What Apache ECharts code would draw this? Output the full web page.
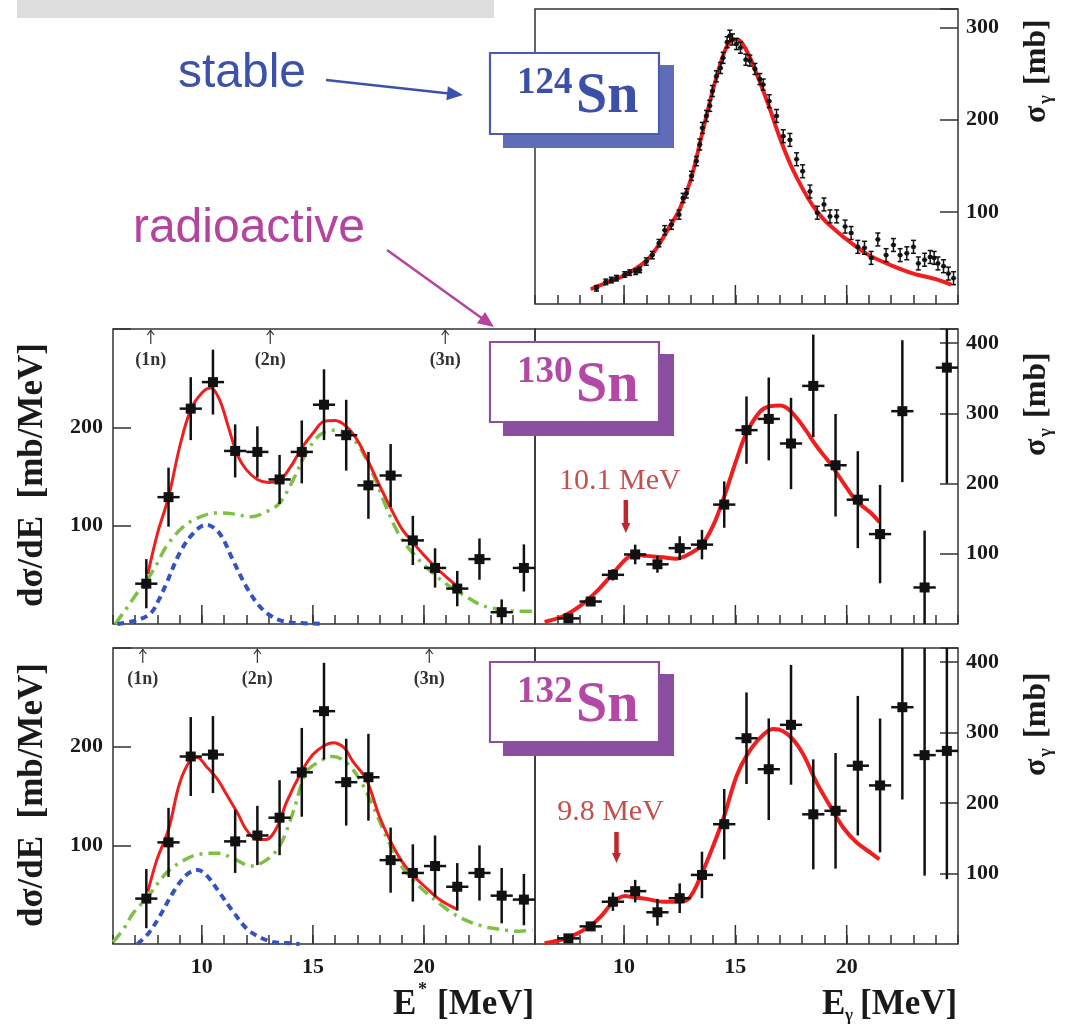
<!DOCTYPE html>
<html><head><meta charset="utf-8">
<script src="https://cdn.jsdelivr.net/npm/echarts@6/dist/echarts.min.js"></script>
<style>html,body{margin:0;padding:0;background:#fff}#c{width:1068px;height:1027px}</style>
</head><body><div id="c"></div><script>
// ---------- data ----------
const majorTicks = [10, 15, 20];
const thrLabels = ['(1n)', '(2n)', '(3n)'];
const thr130 = [7.7, 13.08, 20.96];
const thr132 = [7.34, 12.5, 20.24];

// 124Sn photoabsorption
const sn124_x = [8.76,9.18,9.43,9.66,10.03,10.25,10.52,10.7,11.0,11.27,11.57,11.83,12.13,12.47,12.65,12.8,13.03,13.25,13.4,13.52,13.7,13.85,13.97,14.15,14.33,14.45,14.63,14.75,14.87,15.05,15.23,15.47,15.65,15.88,16.1,16.25,16.52,16.85,17.15,17.45,17.75,18.02,18.35,18.68,18.98,19.25,19.55,19.93,20.2,20.5,20.8,21.1,21.4,21.77,22.1,22.4,22.7,23.0,23.22,23.5,23.75,23.93,24.1,24.35,24.57,24.8];
const sn124_y = [17,24,26,28,32,34,35,37,46,53,66,80,86,97,115,120,139,155,173,191,204,215,231,247,256,267,284,291,287,282,278,265,264,255,244,238,220,204,182,178,157,144,122,99,108,95,95,84,77,62,61,50,70,53,64,53,55,62,44,48,51,50,44,41,33,28];
const sn124_err = [3,3,3,3,3,3,3,3,4,4,4,5,5,5,5,5,5,5,6,6,6,6,6,6,6,6,6,6,6,6,6,6,6,6,6,6,7,7,7,7,7,7,7,7,7,7,7,7,7,7,7,7,7,7,7,7,7,7,7,7,7,7,7,7,7,7];
const sn124_fit = [[8.5,16],[9,21],[10,31],[11,47],[11.5,62],[12,82],[12.5,103],[13,135],[13.5,184],[14,233],[14.5,273],[14.8,285],[15.1,287],[15.5,275],[16,247],[16.5,215],[17,180],[17.5,150],[18,126],[18.5,106],[19,91],[19.5,80],[20,70],[21,53],[22,42],[23,33],[24,27],[24.7,21]];

// bins (both 130Sn and 132Sn)
const binX = [7.5,8.5,9.5,10.5,11.5,12.5,13.5,14.5,15.5,16.5,17.5,18.5,19.5,20.5,21.5,22.5,23.5,24.5];

// 130Sn excitation-energy spectrum
const sn130E_y = [41,129,219,246,176,175,147,175,223,192,141,151,85,57,36,66,12,57];
const sn130E_err = [25,30,32,33,27,26,25,32,36,36,34,32,25,20,18,21,13,24];
const sn130E_fit = [[7.57,51],[8.0,92],[8.5,129],[9.0,180],[9.5,218],[10.0,235],[10.4,240],[10.8,228],[11.2,200],[11.6,172],[12.0,157],[12.5,147],[13.0,144],[13.5,146],[14.0,160],[14.5,179],[15.0,194],[15.5,206],[16.0,207],[16.5,201],[17.0,187],[17.5,165],[18.0,141],[18.5,118],[19.0,97],[19.5,83],[20.0,70],[20.5,58],[21.0,48],[21.5,38]];
const sn130E_gdr = [[6.1,0],[6.55,14],[7.07,31],[7.57,46],[8.0,62],[8.4,79],[9.17,99],[9.93,109],[10.7,113],[11.4,112],[12.2,109],[12.9,114],[13.5,123],[14.1,146],[14.7,174],[15.3,192],[15.9,197],[16.5,194],[17.1,180],[17.7,153],[18.3,119],[18.9,90],[19.5,72],[20.1,58],[20.7,46],[21.3,36],[21.9,28],[22.5,20],[23.1,16],[23.7,14],[24.3,13],[24.9,13]];
const sn130E_pdr = [[6.2,0],[7.1,4],[7.7,11],[8.05,24],[8.4,41],[9.0,72],[9.6,92],[10.2,101],[10.8,92],[11.4,65],[12.0,38],[12.6,18],[13.2,7],[13.8,2],[14.4,1],[15.5,0]];

// 130Sn photoabsorption
const sn130G_y = [8,32,70,99,85,108,113,170,276,292,257,339,226,177,128,303,52,365];
const sn130G_err = [4,6,8,14,12,17,21,33,48,59,65,73,73,69,70,101,81,165];
const sn130G_fit = [[6.43,3],[7.26,11],[8.0,25],[8.76,46],[9.5,72],[10.1,93],[10.5,99],[11.0,97],[11.75,95],[12.35,93],[12.95,100],[13.48,112],[14.0,140],[14.45,177],[15.05,234],[15.5,272],[16.1,302],[16.55,310],[17.0,311],[17.45,304],[18.05,281],[18.65,253],[19.25,229],[19.85,201],[20.45,175],[21.05,159],[21.47,145]];

// 132Sn excitation-energy spectrum
const sn132E_y = [46,103,190,192,104,110,128,174,236,164,169,85,72,79,58,72,49,45];
const sn132E_err = [30,35,40,39,32,30,38,45,49,44,44,33,29,31,24,28,28,26];
const sn132E_fit = [[7.57,53],[7.97,85],[8.5,116],[9.0,163],[9.5,187],[9.8,189],[10.2,180],[10.7,167],[11.1,152],[11.6,133],[12.0,116],[12.5,106],[12.9,106],[13.4,119],[13.8,143],[14.5,175],[15.0,192],[15.5,201],[15.9,204],[16.4,199],[16.8,185],[17.4,167],[18.0,129],[18.5,104],[19.0,84],[19.5,70],[20.1,57],[20.7,45],[21.5,35]];
const sn132E_gdr = [[6.0,2],[6.5,16],[6.9,31],[7.57,48],[8.4,72],[9.2,85],[9.9,91],[10.7,92],[11.4,87],[12.2,79],[12.9,85],[13.5,99],[14.1,133],[14.7,174],[15.3,185],[15.9,190],[16.5,184],[17.1,167],[17.7,140],[18.3,109],[18.9,82],[19.5,65],[20.1,52],[20.7,41],[21.3,31],[21.9,24],[22.5,19],[23.1,16],[23.7,14],[24.3,13],[24.9,14]];
const sn132E_pdr = [[7.1,0],[7.6,11],[8.1,28],[8.7,52],[9.3,70],[9.8,75],[10.2,70],[10.8,52],[11.4,33],[12.0,16],[12.6,7],[13.2,2],[13.8,1],[14.4,0]];

// 132Sn photoabsorption
const sn132G_y = [8,25,60,75,45,65,98,170,292,248,311,184,189,253,225,336,268,274];
const sn132G_err = [4,6,13,16,19,21,33,50,65,72,85,78,82,99,95,131,171,182];
const sn132G_fit = [[6.43,1],[7.48,9],[8.46,25],[8.98,40],[9.5,59],[10.03,68],[10.48,66],[11.0,64],[11.75,60],[12.5,60],[12.95,66],[13.48,99],[14.0,139],[14.45,177],[15.05,238],[15.5,267],[16.1,292],[16.7,305],[17.15,302],[17.6,290],[18.05,269],[18.65,229],[19.25,196],[19.85,165],[20.45,144],[21.05,130],[21.47,120]];

// PDR arrows
const pdrArrowX = [10.08, 9.66];
const pdrLabels = ['10.1 MeV', '9.8 MeV'];

// ---------- chart ----------
const SERIF = '"Liberation Serif", "DejaVu Serif", serif';
const SANS = '"Liberation Sans", Arial, sans-serif';
const INK = '#1a1a1a';

const grids = [
  {left:535, top:9, width:423, height:295},
  {left:113, top:329, width:422, height:295},
  {left:535, top:329, width:423, height:295},
  {left:113, top:648, width:422, height:296},
  {left:535, top:648, width:423, height:296}
].map(g => Object.assign({show:true, borderColor:'#333', borderWidth:1.5, backgroundColor:'transparent', outerBoundsMode:'none', containLabel:false}, g));

const yMax = [320, 300, 420, 300, 420];
const yPos = ['right','left','right','left','right'];

const xAxes = grids.map((g,i) => ({
  type:'value', gridIndex:i, min:6, max:25, interval:1,
  axisLine:{show:false}, splitLine:{show:false},
  axisTick:{show:true, inside:true, length:9, lineStyle:{color:'#333', width:1.5}},
  axisLabel:{show:i>=3, margin:12, color:INK, fontFamily:SERIF, fontWeight:'bold', fontSize:22,
    formatter: v => majorTicks.indexOf(v) >= 0 ? String(v) : ''}
}));
const yAxes = grids.map((g,i) => ({
  type:'value', gridIndex:i, min:0, max:yMax[i], interval:100, position:yPos[i],
  axisLine:{show:false}, splitLine:{show:false},
  axisTick:{show:true, inside:true, length:18, lineStyle:{color:'#333', width:1.5}},
  axisLabel:{show:true, margin:yPos[i]==='left'?10:8, color:INK, fontFamily:SERIF, fontWeight:'bold', fontSize:22,
    showMinLabel:false,
    formatter: v => (v > 0 && v % 100 === 0 && (yPos[i]==='right' || v < 300)) ? String(v) : ''}
}));

function errRender(o){
  return function(params, api){
    const cs = params.coordSys;
    const x = api.value(0), y = api.value(1), e = api.value(2);
    const p = api.coord([x, y]);
    let top = api.coord([x, y + e])[1], bot = api.coord([x, y - e])[1];
    const topClip = top < cs.y, botClip = bot > cs.y + cs.height;
    top = Math.max(top, cs.y); bot = Math.min(bot, cs.y + cs.height);
    const l = api.coord([x - o.xe, y])[0], r = api.coord([x + o.xe, y])[0];
    const st = {stroke:'#111', lineWidth:o.lw};
    const ch = [
      {type:'line', shape:{x1:p[0], y1:top, x2:p[0], y2:bot}, style:st},
      {type:'line', shape:{x1:l, y1:p[1], x2:r, y2:p[1]}, style:st},
      {type:'rect', shape:{x:p[0]-o.ms/2, y:p[1]-o.ms/2, width:o.ms, height:o.ms}, style:{fill:'#111'}}
    ];
    if (o.cap) {
      if (!topClip) ch.push({type:'line', shape:{x1:p[0]-o.cap, y1:top, x2:p[0]+o.cap, y2:top}, style:st});
      if (!botClip) ch.push({type:'line', shape:{x1:p[0]-o.cap, y1:bot, x2:p[0]+o.cap, y2:bot}, style:st});
    }
    return {type:'group', children:ch};
  };
}
function zip3(a, b, c){ return a.map((v, i) => [v, b[i], c[i]]); }

const series = [];
// major ticks
grids.forEach((g, i) => {
  series.push({
    type:'custom', xAxisIndex:i, yAxisIndex:i, silent:true, z:1,
    data: majorTicks.map(v => [v, 0]), encode:{x:0, y:1},
    renderItem: (params, api) => {
      const cs = params.coordSys; const px = api.coord([api.value(0), 0])[0];
      const yb = cs.y + cs.height;
      return {type:'line', shape:{x1:px, y1:yb, x2:px, y2:yb-19}, style:{stroke:'#333', lineWidth:1.5}};
    }
  });
});
function curve(i, data, color, width, type, z){
  series.push({type:'line', xAxisIndex:i, yAxisIndex:i, data:data, showSymbol:false, smooth:0.35,
    silent:true, z:z||2, lineStyle:{color:color, width:width, type:type||'solid', cap:'butt'}});
}
const RED = '#f01e1e', GREEN = '#7cc144', BLUE = '#3352c4';
// top 124Sn
curve(0, sn124_fit, RED, 4);
series.push({type:'custom', xAxisIndex:0, yAxisIndex:0, z:3, silent:true, encode:{x:0, y:1},
  data: zip3(sn124_x, sn124_y, sn124_err), renderItem: errRender({xe:0.12, lw:1.5, ms:4, cap:2.5})});
// middle-left 130Sn E*
curve(1, sn130E_gdr, GREEN, 3.5, [12, 6, 3, 6]);
curve(1, sn130E_pdr, BLUE, 4, [7, 5]);
curve(1, sn130E_fit, RED, 3);
series.push({type:'custom', xAxisIndex:1, yAxisIndex:1, z:3, silent:true, encode:{x:0, y:1},
  data: zip3(binX, sn130E_y, sn130E_err), renderItem: errRender({xe:0.5, lw:2.5, ms:10})});
// middle-right 130Sn gamma
curve(2, sn130G_fit, RED, 4);
series.push({type:'custom', xAxisIndex:2, yAxisIndex:2, z:3, silent:true, encode:{x:0, y:1},
  data: zip3(binX, sn130G_y, sn130G_err), renderItem: errRender({xe:0.5, lw:2.5, ms:10})});
// bottom-left 132Sn E*
curve(3, sn132E_gdr, GREEN, 3.5, [12, 6, 3, 6]);
curve(3, sn132E_pdr, BLUE, 4, [7, 5]);
curve(3, sn132E_fit, RED, 3);
series.push({type:'custom', xAxisIndex:3, yAxisIndex:3, z:3, silent:true, encode:{x:0, y:1},
  data: zip3(binX, sn132E_y, sn132E_err), renderItem: errRender({xe:0.5, lw:2.5, ms:10})});
// bottom-right 132Sn gamma
curve(4, sn132G_fit, RED, 4);
series.push({type:'custom', xAxisIndex:4, yAxisIndex:4, z:3, silent:true, encode:{x:0, y:1},
  data: zip3(binX, sn132G_y, sn132G_err), renderItem: errRender({xe:0.5, lw:2.5, ms:10})});

// neutron thresholds
[[1, thr130], [3, thr132]].forEach(([i, thr]) => {
  series.push({type:'custom', xAxisIndex:i, yAxisIndex:i, z:4, silent:true, encode:{x:0, y:1},
    data: thr.map(v => [v, 0]),
    renderItem: (params, api) => {
      const cs = params.coordSys; const px = api.coord([api.value(0), 0])[0]; const yt = cs.y;
      const st = {stroke:'#333', lineWidth:1.2, fill:null};
      return {type:'group', children:[
        {type:'line', shape:{x1:px, y1:yt+1, x2:px, y2:yt+15}, style:st},
        {type:'polyline', shape:{points:[[px-3.5, yt+6], [px, yt+1.5], [px+3.5, yt+6]]}, style:st},
        {type:'text', x:px, y:yt+31, style:{text:thrLabels[params.dataIndex], align:'center', verticalAlign:'middle',
          font:'bold 18px ' + SERIF, fill:'#333'}}
      ]};
    }});
});
// PDR arrows
[[2, 0, 143, 124, 91], [4, 1, 132, 112, 81]].forEach(([i, k, tOff, a1, a2]) => {
  series.push({type:'custom', xAxisIndex:i, yAxisIndex:i, z:4, silent:true, encode:{x:0, y:1},
    data: [[pdrArrowX[k], 0]],
    renderItem: (params, api) => {
      const cs = params.coordSys; const px = api.coord([api.value(0), 0])[0]; const yb = cs.y + cs.height;
      return {type:'group', children:[
        {type:'text', x:px-6, y:yb-tOff, style:{text:pdrLabels[k], align:'center', verticalAlign:'middle',
          font:'30px ' + SERIF, fill:'#c4504e'}},
        {type:'line', shape:{x1:px, y1:yb-a1, x2:px, y2:yb-a2-8}, style:{stroke:'#c0242c', lineWidth:4.5}},
        {type:'polygon', shape:{points:[[px-4.5, yb-a2-10], [px+4.5, yb-a2-10], [px, yb-a2]]}, style:{fill:'#c0242c'}}
      ]};
    }});
});

// ---------- annotations ----------
function arrow(x1, y1, x2, y2, color, w, hl, hw){
  const a = Math.atan2(y2-y1, x2-x1), c = Math.cos(a), s = Math.sin(a);
  const bx = x2 - hl*c, by = y2 - hl*s;
  return [
    {type:'line', shape:{x1:x1, y1:y1, x2:bx + 2*c, y2:by + 2*s}, style:{stroke:color, lineWidth:w}},
    {type:'polygon', shape:{points:[[x2, y2], [bx - hw*s, by + hw*c], [bx + hw*s, by - hw*c]]}, style:{fill:color}}
  ];
}
function isoBox(x, y, w, h, mass, txtCol, lineCol, shCol){
  return [
    {type:'rect', shape:{x:x+13, y:y+12, width:w+2, height:h+2}, style:{fill:shCol}},
    {type:'rect', shape:{x:x, y:y, width:w, height:h}, style:{fill:'#fff', stroke:lineCol, lineWidth:2.2}},
    {type:'text', x:x+27, y:y+30, style:{text:mass, font:'bold 37px ' + SERIF, fill:txtCol, align:'left', verticalAlign:'middle'}},
    {type:'text', x:x+86, y:y+45, style:{text:'Sn', font:'bold 56px ' + SERIF, fill:txtCol, align:'left', verticalAlign:'middle'}}
  ];
}
function sigmaLabel(cx, cy){
  return {type:'group', x:cx, y:cy, rotation:Math.PI/2, children:[
    {type:'text', x:-56, y:0, style:{text:'σ', font:'bold 32px ' + SERIF, fill:INK, align:'left', verticalAlign:'middle'}},
    {type:'text', x:-37, y:9, style:{text:'γ', font:'bold 19px ' + SERIF, fill:INK, align:'left', verticalAlign:'middle'}},
    {type:'text', x:-18, y:0, style:{text:'[mb]', font:'bold 32px ' + SERIF, fill:INK, align:'left', verticalAlign:'middle'}}
  ]};
}
function dsdeLabel(cx, cy){
  return {type:'text', x:cx, y:cy, rotation:Math.PI/2,
    style:{text:'dσ/dE  [mb/MeV]', font:'bold 35px ' + SERIF, fill:INK, align:'center', verticalAlign:'middle'}};
}
const BLUE_T = '#3c52aa', MAG_T = '#b4449e';
const graphics = [
  {type:'rect', shape:{x:17, y:0, width:477, height:18}, style:{fill:'#dddddd'}},
  {type:'text', x:242, y:74, style:{text:'stable', font:'48px ' + SANS, fill:BLUE_T, align:'center', verticalAlign:'middle'}},
  ...arrow(326, 80, 463, 95, BLUE_T, 2.5, 16, 7),
  {type:'text', x:249, y:229, style:{text:'radioactive', font:'48px ' + SANS, fill:MAG_T, align:'center', verticalAlign:'middle'}},
  ...arrow(387, 250, 494, 327, MAG_T, 2.5, 16, 7),
  ...isoBox(490, 53, 169, 81, '124', '#3d50a8', '#4a5bb0', '#5f6db8'),
  ...isoBox(490, 342, 169, 80, '130', '#b348a6', '#8d4ea3', '#8b4fa2'),
  ...isoBox(490, 662, 169, 80, '132', '#b348a6', '#8d4ea3', '#8b4fa2'),
  sigmaLabel(1037, 67),
  sigmaLabel(1037, 400),
  sigmaLabel(1037, 720),
  dsdeLabel(33, 475),
  dsdeLabel(33, 795),
  {type:'text', x:393, y:1005, style:{text:'E', font:'bold 35px ' + SERIF, fill:INK, align:'left', verticalAlign:'middle'}},
  {type:'text', x:418, y:990, style:{text:'*', font:'bold 18px ' + SERIF, fill:INK, align:'left', verticalAlign:'middle'}},
  {type:'text', x:437, y:1005, style:{text:'[MeV]', font:'bold 35px ' + SERIF, fill:INK, align:'left', verticalAlign:'middle'}},
  {type:'text', x:822, y:1005, style:{text:'E', font:'bold 35px ' + SERIF, fill:INK, align:'left', verticalAlign:'middle'}},
  {type:'text', x:845, y:1016, style:{text:'γ', font:'bold 17px ' + SERIF, fill:INK, align:'left', verticalAlign:'middle'}},
  {type:'text', x:860, y:1005, style:{text:'[MeV]', font:'bold 35px ' + SERIF, fill:INK, align:'left', verticalAlign:'middle'}}
];

const chart = echarts.init(document.getElementById('c'), null, {renderer:'canvas'});
chart.setOption({
  backgroundColor:'#ffffff',
  animation:false,
  grid:grids, xAxis:xAxes, yAxis:yAxes, series:series,
  graphic:{elements:graphics.map(e => Object.assign({z:10}, e))}
});
</script></body></html>
